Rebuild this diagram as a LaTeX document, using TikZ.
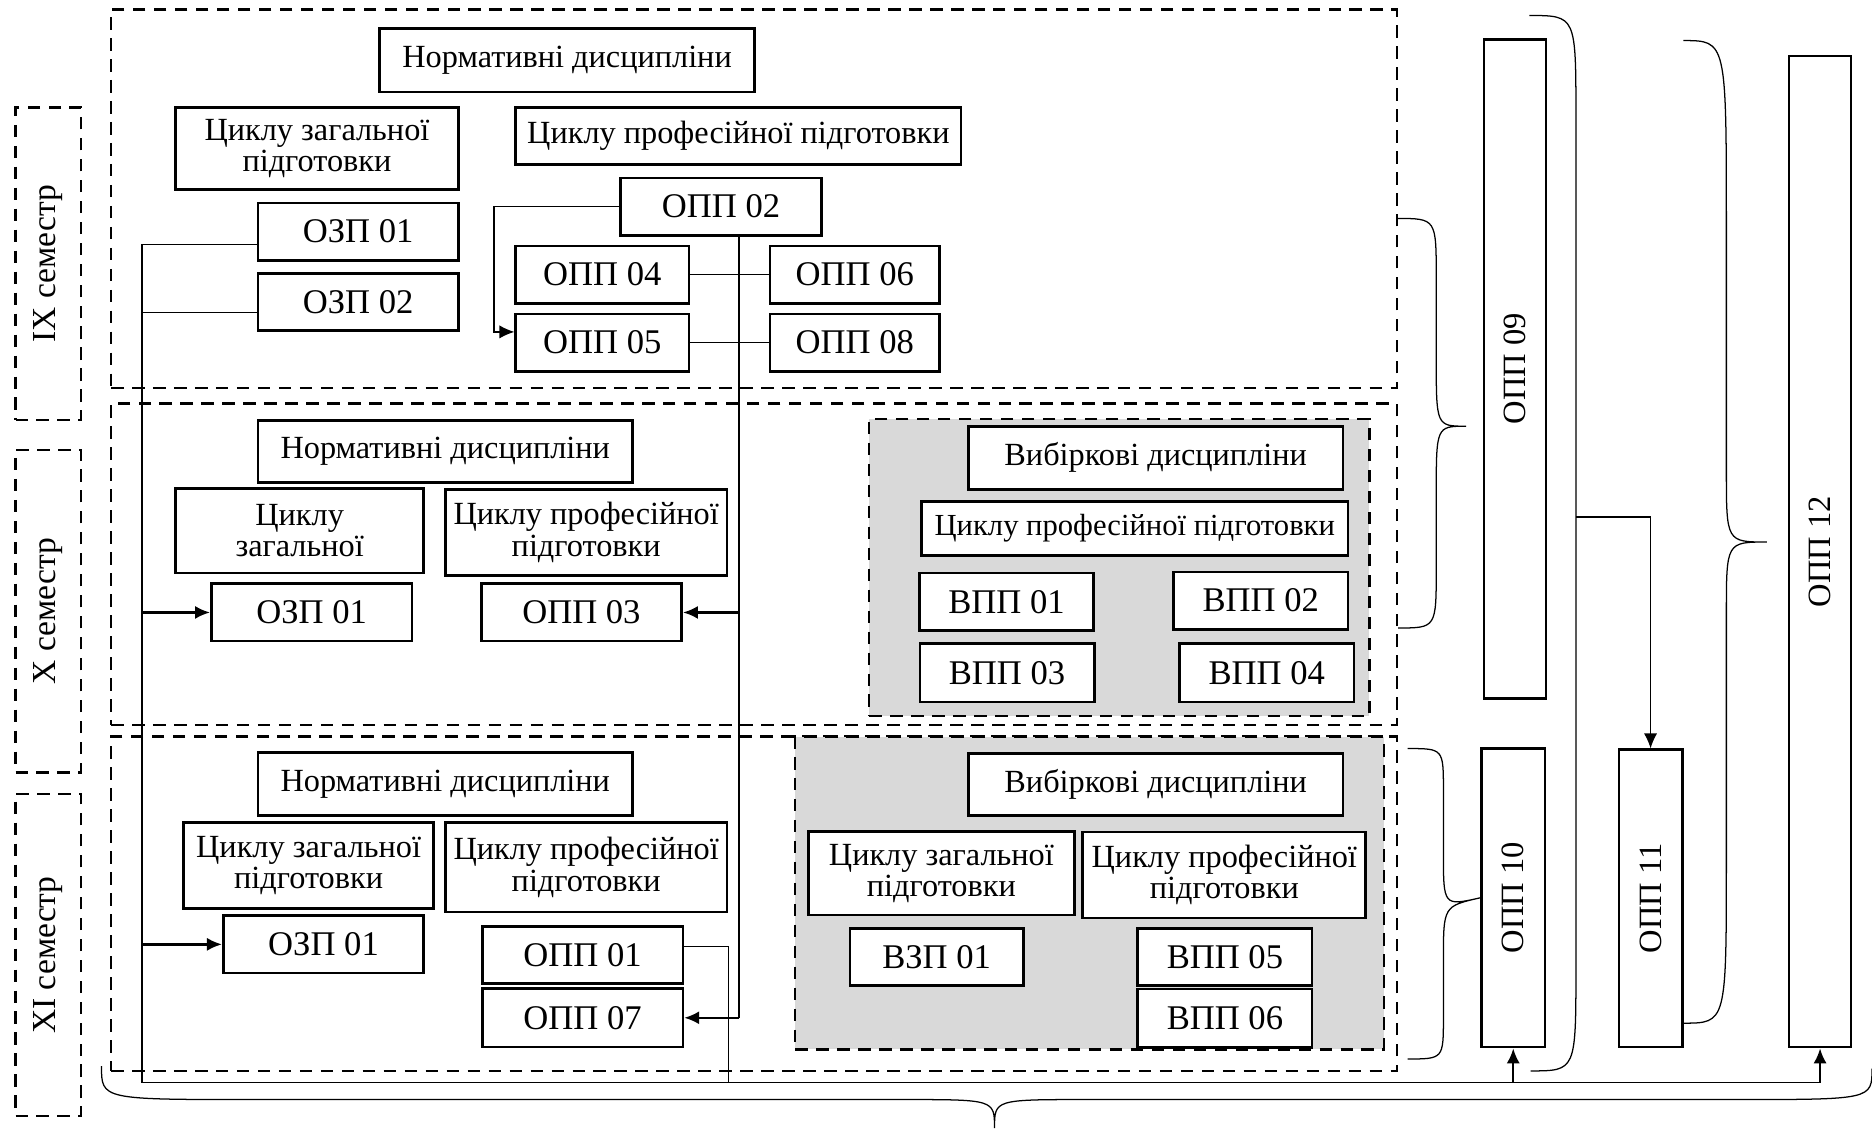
\documentclass[tikz,border=0pt]{standalone}
\usepackage{fontspec}
\usepackage{graphicx}
\setmainfont{Liberation Serif}
\usetikzlibrary{arrows.meta,calc}

\begin{document}
\begin{tikzpicture}[x=0.02cm, y=-0.02cm,
  sz/.style 2 args={minimum width=#1*0.02cm, minimum height=#2*0.02cm},
  box/.style={draw, line width=1.3pt, fill=white, inner sep=0pt, align=center, font={\fontsize{15.4}{15}\selectfont}},
  code/.style={box, font={\fontsize{16.5}{15}\selectfont}},
  dbox/.style={draw, line width=1.1pt, dash pattern=on 6pt off 4pt, inner sep=0pt},
  grey/.style={dbox, fill=black!15},
  sem/.style={dbox, font={\fontsize{16}{16}\selectfont}},
  col/.style={box, font={\fontsize{15.5}{15.5}\selectfont}},
  link/.style={line width=0.6pt},
  tip/.style={-{Latex[length=2.5mm,width=2.2mm]}},
  arr/.style={line width=1.1pt, tip},
  brace/.style={line width=0.6pt}]

\useasboundingbox (0,0) rectangle (1568,945);

\node[dbox, sz={1077}{317}] (sem9) at (631.5,166.5) {};
\node[dbox, sz={1077}{269}] (sem10) at (631.5,472.5) {};
\node[dbox, sz={1077}{280}] (sem11) at (631.5,757) {};
\node[grey, sz={419}{249}] (vyb10) at (937.5,475.5) {};
\node[grey, sz={493}{262}] (vyb11) at (912.5,748) {};

\node[sem, sz={55}{262}] (s9) at (40.5,221) {\rotatebox{90}{IX семестр}};
\node[sem, sz={55}{270}] (s10) at (40.5,512) {\rotatebox{90}{X семестр}};
\node[sem, sz={55}{270}] (s11) at (40.5,800) {\rotatebox{90}{XI семестр}};

% IX семестр
\node[box, sz={314}{53}] (nd9) at (475,50.5) {Нормативні дисципліни};
\node[box, sz={237}{69}] (zag9) at (265.5,124.5) {Циклу загальної\\підготовки};
\node[box, sz={373}{48}] (prof9) at (618.5,114) {Циклу професійної підготовки};
\node[code, sz={168}{48}] (opp02) at (604,173) {ОПП 02};
\node[code, sz={168}{48}] (ozp01a) at (300,194) {ОЗП 01};
\node[code, sz={168}{48}] (ozp02) at (300,253) {ОЗП 02};
\node[code, sz={145}{48}] (opp04) at (504.5,230) {ОПП 04};
\node[code, sz={142}{48}] (opp06) at (716,230) {ОПП 06};
\node[code, sz={145}{48}] (opp05) at (504.5,287) {ОПП 05};
\node[code, sz={142}{48}] (opp08) at (716,287) {ОПП 08};

% X семестр
\node[box, sz={314}{52}] (nd10) at (373,378) {Нормативні дисципліни};
\node[box, sz={208}{71}] (zag10) at (251,444.5) {Циклу\\загальної};
\node[box, sz={236}{72}] (prof10) at (491,446) {Циклу професійної\\підготовки};
\node[code, sz={168}{48}] (ozp01b) at (261,513) {ОЗП 01};
\node[code, sz={168}{48}] (opp03) at (487,513) {ОПП 03};
\node[box, sz={314}{53}] (vd10) at (968,383.5) {Вибіркові дисципліни};
\node[box, sz={357}{45}, font={\fontsize{14.6}{15}\selectfont}] (vprof10) at (950.5,442.5) {Циклу професійної підготовки};
\node[code, sz={146}{48}] (vpp01) at (843,504) {ВПП 01};
\node[code, sz={146}{48}] (vpp02) at (1056,503) {ВПП 02};
\node[code, sz={146}{49}] (vpp03) at (843.5,563.5) {ВПП 03};
\node[code, sz={146}{49}] (vpp04) at (1061,563.5) {ВПП 04};

% XI семестр
\node[box, sz={314}{53}] (nd11) at (373,656.5) {Нормативні дисципліни};
\node[box, sz={209}{72}] (zag11) at (258.5,725) {Циклу загальної\\підготовки};
\node[box, sz={236}{75}] (prof11) at (491,726.5) {Циклу професійної\\підготовки};
\node[code, sz={168}{48}] (ozp01c) at (271,791) {ОЗП 01};
\node[code, sz={168}{48}] (opp01) at (488,800) {ОПП 01};
\node[code, sz={168}{49}] (opp07) at (488,852.5) {ОПП 07};
\node[box, sz={314}{52}] (vd11) at (968,657) {Вибіркові дисципліни};
\node[box, sz={223}{70}] (vzag11) at (788.5,731.5) {Циклу загальної\\підготовки};
\node[box, sz={237}{72}] (vprof11) at (1025.5,733) {Циклу професійної\\підготовки};
\node[code, sz={145}{48}] (vzp01) at (784.5,801.5) {ВЗП 01};
\node[code, sz={146}{48}] (vpp05) at (1026,801.5) {ВПП 05};
\node[code, sz={146}{49}] (vpp06) at (1026,853) {ВПП 06};

\node[col, sz={52}{552}] (opp09) at (1269,309) {\rotatebox{90}{ОПП 09}};
\node[col, sz={53}{250}] (opp10) at (1267.5,752) {\rotatebox{90}{ОПП 10}};
\node[col, sz={53}{249}] (opp11) at (1382.5,752.5) {\rotatebox{90}{ОПП 11}};
\node[col, sz={52}{830}] (opp12) at (1524.5,462) {\rotatebox{90}{ОПП 12}};

\coordinate (bl) at (119,907);
\coordinate (br) at ($(opp02.south)+(15,0)$);
\coordinate (b3) at (1320,433);

\draw[link] ($(ozp01a.west)+(0,11)$) -| (bl) -- (opp12.south |- bl);
\draw[link] ($(ozp02.west)+(0,9)$) -- ++(-97,0);
\foreach \n in {ozp01b, ozp01c}
    \draw[arr] (\n.west -| bl) -- (\n.west);
\draw[link] (br) -- (br |- opp07.east);
\foreach \n in {opp03, opp07}
    \draw[arr] (br |- \n.east) -- (\n.east);
\draw[link, tip] (opp02.west) -- ++(-105,0) |- ($(opp05.west)+(0,-9)$);
\foreach \a/\b in {opp04/opp06, opp05/opp08}
    \draw[link] (\a) -- (\b);
\draw[link] ($(opp01.east)+(0,-7)$) -- ++(37,0) -- ++(0,114);
\foreach \n in {opp10, opp12}
    \draw[arr] (\n.south |- bl) -- (\n.south);
\draw[link, tip] (b3) -| (opp11.north);

\draw[brace] (1170,183) .. controls (1203,183) .. (1203,233) -- (1203,300)
    .. controls (1203,357) .. (1228,357) .. controls (1203,357) .. (1203,414)
    -- (1203,476) .. controls (1203,526) .. (1171,526);
\draw[brace] (1179,627) .. controls (1209,627) .. (1209,662) -- (1209,714)
    .. controls (1209,759) .. (opp10.west) .. controls (1209,759) .. (1209,804)
    -- (1209,852) .. controls (1209,887) .. (1179,887);
\draw[brace] (1281,13) .. controls (1320,13) .. (1320,98) -- (b3) -- (1320,810)
    .. controls (1320,897) .. (1282,897);
\draw[brace] (1410,34) .. controls (1446,34) .. (1446,190) -- (1446,394)
    .. controls (1446,454) .. (1480,454) .. controls (1446,454) .. (1446,514)
    -- (1446,720) .. controls (1446,857) .. (1410,857);
\draw[brace] (85,893) .. controls (85,921) .. (213,921) -- (756,921)
    .. controls (833,921) .. (833,945) .. controls (833,921) .. (910,921)
    -- (1452,921) .. controls (1568,921) .. (1568,895);

\end{tikzpicture}
\end{document}
